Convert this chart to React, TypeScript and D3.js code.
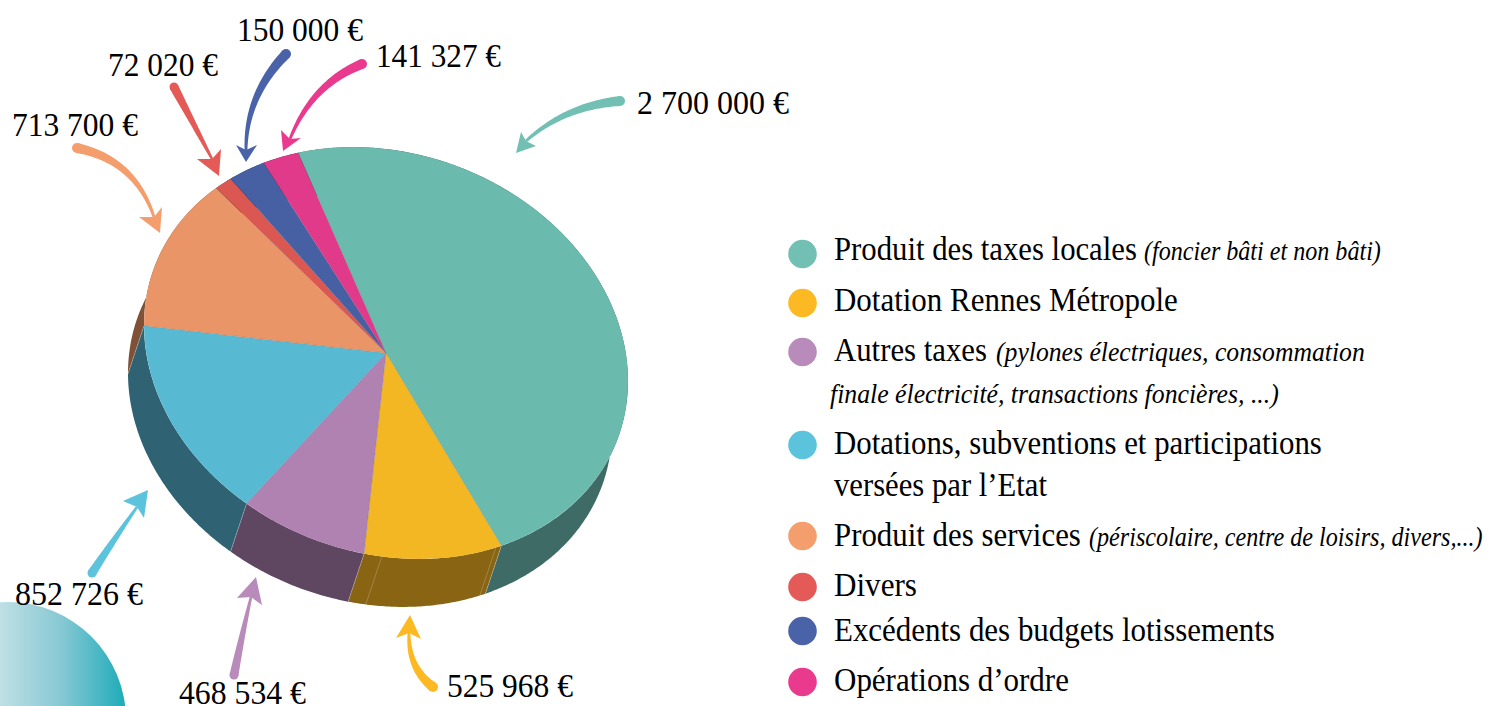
import React from "react";
import * as d3 from "d3";

// ---- data ----
const categories = [
  "Produit des taxes locales",
  "Dotation Rennes Métropole",
  "Autres taxes",
  "Dotations, subventions et participations",
  "Produit des services",
  "Divers",
  "Excédents des budgets lotissements",
  "Opérations d’ordre",
];
const values = [2700000, 525968, 468534, 852726, 713700, 72020, 150000, 141327];
const valueLabels = ["2 700 000 €", "525 968 €", "468 534 €", "852 726 €", "713 700 €", "72 020 €", "150 000 €", "141 327 €"];
const topColors = ["#6bbaae", "#f3b723", "#b082b2", "#58b9d3", "#e99568", "#db5752", "#4660a3", "#e23a8b"];
const wallColors = ["#3f6b66", "#886413", "#5f4762", "#2f6272", "#7f5238", "#6e2c2a", "#232f51", "#711d45"];
const legendColors = ["#72c0b4", "#fdb924", "#b98bbb", "#5bc3dc", "#f49e6e", "#e35a57", "#4a62a8", "#ea3a8e"];

// ---- layout (not data) ----
const W = 1488, H = 706;
const CX = 386, CY = 353, R = 200;
const M = { a: 242 / R, c: 28 / R, d: 204 / R };
const DEPTH = { x: -16, y: 48 };
const START = (-21.3 * Math.PI) / 180;
const FONT = "'Liberation Serif','Times New Roman',serif";

type Run = { t: string; x: number; end: number; it?: boolean };
const legendRows: { color: number; cy?: number; y: number; runs: Run[] }[] = [
  { color: 0, cy: 254, y: 260, runs: [{ t: categories[0], x: 834, end: 1137 }, { t: "(foncier bâti et non bâti)", x: 1144, end: 1381, it: true }] },
  { color: 1, cy: 303, y: 311, runs: [{ t: categories[1], x: 834, end: 1178 }] },
  { color: 2, cy: 352, y: 361, runs: [{ t: categories[2], x: 834, end: 987 }, { t: "(pylones électriques, consommation", x: 996, end: 1365, it: true }] },
  { color: 2, y: 403, runs: [{ t: "finale électricité, transactions foncières, ...)", x: 830, end: 1279, it: true }] },
  { color: 3, cy: 445, y: 454, runs: [{ t: categories[3], x: 834, end: 1322 }] },
  { color: 3, y: 496, runs: [{ t: "versées par l’Etat", x: 834, end: 1047 }] },
  { color: 4, cy: 536, y: 546, runs: [{ t: categories[4], x: 834, end: 1081 }, { t: "(périscolaire, centre de loisirs, divers,...)", x: 1089, end: 1483, it: true }] },
  { color: 5, cy: 587, y: 596, runs: [{ t: categories[5], x: 834, end: 917 }] },
  { color: 6, cy: 631, y: 641, runs: [{ t: categories[6], x: 834, end: 1275 }] },
  { color: 7, cy: 682, y: 691, runs: [{ t: categories[7], x: 834, end: 1069 }] },
];

// label placement, same order as values
const labelPos = [
  { x: 637, end: 789, y: 114 },
  { x: 447, end: 573, y: 697 },
  { x: 179, end: 306, y: 704 },
  { x: 15, end: 143, y: 605 },
  { x: 12, end: 138, y: 136 },
  { x: 108, end: 218, y: 76 },
  { x: 237, end: 363, y: 41 },
  { x: 376, end: 501, y: 67 },
];

type P = [number, number];
// tail, control, notch, tip, barb, barb
const arrows: { tail: P; ctrl: P; notch: P; tip: P; b1: P; b2: P; w: number }[] = [
  { tail: [620, 101], ctrl: [565, 106], notch: [526, 141], tip: [516, 153], b1: [521, 132], b2: [536, 146], w: 10 },
  { tail: [433, 687], ctrl: [408, 668], notch: [409, 633], tip: [410, 615], b1: [396, 638], b2: [421, 639], w: 10 },
  { tail: [234, 675], ctrl: [242, 635], notch: [251, 597], tip: [256, 577], b1: [237, 598], b2: [262, 605], w: 9 },
  { tail: [92, 573], ctrl: [115, 538], notch: [137, 507], tip: [148, 490], b1: [123, 501], b2: [144, 518], w: 9 },
  { tail: [77, 148], ctrl: [135, 160], notch: [154, 217], tip: [160, 233], b1: [139, 217], b2: [162, 207], w: 10 },
  { tail: [174, 87], ctrl: [193, 123], notch: [212, 159], tip: [219, 176], b1: [197, 159], b2: [221, 149], w: 9 },
  { tail: [286, 54], ctrl: [246, 95], notch: [246, 150], tip: [246, 162], b1: [236, 145], b2: [257, 145], w: 10 },
  { tail: [362, 64], ctrl: [312, 84], notch: [290, 139], tip: [283, 151], b1: [281, 130], b2: [301, 138], w: 10 },
];

const pieGen = d3.pie<number>().sort(null).startAngle(START).endAngle(START + Math.PI * 2);
const slices = pieGen(values);
const arcGen = d3.arc<d3.PieArcDatum<number>>().innerRadius(0).outerRadius(R);

// d3 arc angle -> point on the tilted rim
const rim = (t: number): P => {
  const u = R * Math.sin(t), v = -R * Math.cos(t);
  return [CX + M.a * u, CY + M.c * u + M.d * v];
};
const line = d3.line();

function wallPath(a0: number, a1: number) {
  const n = Math.max(2, Math.ceil((a1 - a0) / 0.01));
  const top = d3.range(n + 1).map((i) => rim(a0 + ((a1 - a0) * i) / n));
  const low = top.map(([x, y]) => [x + DEPTH.x, y + DEPTH.y] as P).reverse();
  return line([...top, ...low])! + "Z";
}

function arrowPaths(a: (typeof arrows)[number]) {
  const n = 40;
  const pts: P[] = d3.range(n + 1).map((i) => {
    const t = i / n, s = 1 - t;
    return [
      s * s * a.tail[0] + 2 * s * t * a.ctrl[0] + t * t * a.notch[0],
      s * s * a.tail[1] + 2 * s * t * a.ctrl[1] + t * t * a.notch[1],
    ];
  });
  const left: P[] = [], right: P[] = [];
  pts.forEach((p, i) => {
    const q = pts[Math.min(i + 1, n)], o = pts[Math.max(i - 1, 0)];
    const dx = q[0] - o[0], dy = q[1] - o[1], l = Math.hypot(dx, dy) || 1;
    const w = (a.w * (1 - (i / n) * 0.72)) / 2;
    left.push([p[0] - (dy / l) * w, p[1] + (dx / l) * w]);
    right.push([p[0] + (dy / l) * w, p[1] - (dx / l) * w]);
  });
  return {
    shaft: line([...left, ...right.reverse()])! + "Z",
    head: line([a.b1, a.notch, a.b2, a.tip])! + "Z",
  };
}

// faint split lines seen inside the yellow wall (degrees, d3 convention)
const wallSeams = [153, 181];

// horizontally condensed text: the reference face is narrower than Liberation Serif
const measureCtx = document.createElement("canvas").getContext("2d")!;
function FitText({ t, x, end, y, size, italic }: { t: string; x: number; end: number; y: number; size: number; italic?: boolean }) {
  measureCtx.font = `${italic ? "italic " : ""}${size}px ${FONT}`;
  const sx = (end - x) / measureCtx.measureText(t).width;
  return (
    <text transform={`translate(${x},${y}) scale(${sx},1)`} fontFamily={FONT} fontSize={size} fontStyle={italic ? "italic" : "normal"} fill="#000">
      {t}
    </text>
  );
}

export default function App() {
  return (
    <svg width={W} height={H} viewBox={`0 0 ${W} ${H}`} style={{ position: "absolute", left: 0, top: 0, display: "block", background: "#fff" }}>
      <defs>
        <linearGradient id="blob" gradientUnits="userSpaceOnUse" x1={-5} x2={125} y1={0} y2={0}>
          <stop offset="0" stopColor="#c4e1e7" />
          <stop offset="0.5" stopColor="#88c9d4" />
          <stop offset="1" stopColor="#1fabb9" />
        </linearGradient>
      </defs>
      <circle cx={8} cy={720} r={118} fill="url(#blob)" />

      {/* side walls */}
      {slices.map((s, i) => (
        <path key={i} d={wallPath(s.startAngle, s.endAngle)} fill={wallColors[i]} />
      ))}
      {slices.map((s, i) => {
        const p = rim(s.startAngle);
        return <line key={i} x1={p[0]} y1={p[1]} x2={p[0] + DEPTH.x} y2={p[1] + DEPTH.y} stroke="#fff" strokeOpacity={0.35} strokeWidth={0.7} />;
      })}
      {wallSeams.map((deg, i) => {
        const p = rim((deg * Math.PI) / 180);
        return <line key={i} x1={p[0]} y1={p[1]} x2={p[0] + DEPTH.x} y2={p[1] + DEPTH.y} stroke="#fff" strokeOpacity={0.3} strokeWidth={0.7} />;
      })}

      {/* top face */}
      <g transform={`matrix(${M.a},${M.c},0,${M.d},${CX},${CY})`}>
        {slices.map((s, i) => (
          <path key={i} d={arcGen(s)!} fill={topColors[i]} />
        ))}
      </g>
      {slices.map((s, i) => {
        const p = rim(s.startAngle);
        return <line key={i} x1={CX} y1={CY} x2={p[0]} y2={p[1]} stroke="#444" strokeOpacity={0.3} strokeWidth={0.5} />;
      })}

      {/* arrows */}
      {arrows.map((a, i) => {
        const { shaft, head } = arrowPaths(a);
        return (
          <g key={i} fill={legendColors[i]}>
            <circle cx={a.tail[0]} cy={a.tail[1]} r={a.w / 2} />
            <path d={shaft} />
            <path d={head} />
          </g>
        );
      })}

      {/* value labels */}
      {valueLabels.map((t, i) => {
        const p = labelPos[i];
        return <FitText key={i} t={t} x={p.x} end={p.end} y={p.y} size={33} />;
      })}

      {/* legend */}
      {legendRows.map((r, i) => (
        <g key={i}>
          {r.cy !== undefined && <circle cx={802.5} cy={r.cy} r={14.3} fill={legendColors[r.color]} />}
          {r.runs.map((run, j) => (
            <FitText key={j} t={run.t} x={run.x} end={run.end} y={r.y} size={run.it ? 28 : 33} italic={run.it} />
          ))}
        </g>
      ))}
    </svg>
  );
}
